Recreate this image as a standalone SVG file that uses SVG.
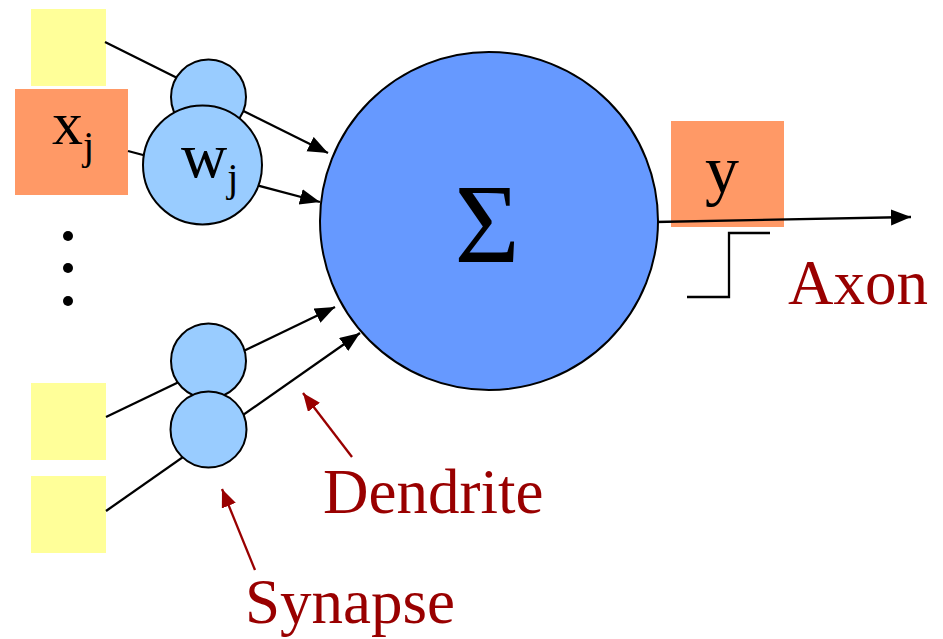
<svg xmlns="http://www.w3.org/2000/svg" width="943" height="639" viewBox="0 0 943 639">
<style>
.in{fill:#FFFF99}
.out{fill:#FF9966}
.syn{fill:#99CCFF;stroke:#000;stroke-width:2}
.ln{stroke:#000;stroke-width:2.3;fill:none}
.rl{stroke:#990000;stroke-width:2.3;fill:none}
.t{font-family:"Liberation Serif","Times New Roman",serif;fill:#000}
.lbl{font-family:"Liberation Serif","Times New Roman",serif;fill:#990000;font-size:63px}
</style>
<defs>
<marker id="ab" markerUnits="userSpaceOnUse" markerWidth="22" markerHeight="18" refX="20" refY="8" orient="auto"><path d="M0,0 L20,8 L0,16 z" fill="#000"/></marker>
<marker id="ar" markerUnits="userSpaceOnUse" markerWidth="22" markerHeight="18" refX="18" refY="7.5" orient="auto"><path d="M0,0 L18,7.5 L0,15 z" fill="#990000"/></marker>
</defs>
<rect width="943" height="639" fill="#fff"/>
<g id="input1"><rect class="in" x="31" y="9" width="75" height="77"/></g>
<g id="input3"><rect class="in" x="31" y="383" width="75" height="77"/></g>
<g id="input4"><rect class="in" x="31" y="476" width="75" height="77"/></g>
<g id="inputj"><rect class="out" x="15" y="89" width="113" height="106"/>
<text class="t" x="52" y="144" font-size="62">x<tspan font-size="40" dy="15">j</tspan></text></g>
<g id="output"><rect class="out" x="671" y="121" width="113" height="106"/>
<text class="t" x="722" y="193" font-size="68" text-anchor="middle">y</text></g>
<g id="connectors">
<line class="ln" x1="105" y1="42" x2="328" y2="153" marker-end="url(#ab)"/>
<line class="ln" x1="128" y1="151" x2="320" y2="202" marker-end="url(#ab)"/>
<line class="ln" x1="106" y1="417" x2="335" y2="307" marker-end="url(#ab)"/>
<line class="ln" x1="106" y1="511" x2="360" y2="333" marker-end="url(#ab)"/>
<line class="ln" x1="655" y1="222" x2="911" y2="217" marker-end="url(#ab)"/>
<line class="rl" x1="352" y1="457" x2="303" y2="393" marker-end="url(#ar)"/>
<line class="rl" x1="255" y1="570" x2="222" y2="489" marker-end="url(#ar)"/>
</g>
<g id="synapse1"><circle class="syn" cx="208.5" cy="97" r="37.5"/></g>
<g id="synapsej"><circle class="syn" cx="202.5" cy="165" r="59.5"/>
<text class="t" x="181" y="177" font-size="64">w<tspan font-size="40" dy="14">j</tspan></text></g>
<g id="synapse3"><circle class="syn" cx="208.5" cy="361" r="37.5"/></g>
<g id="synapse4"><circle class="syn" cx="208.5" cy="429.5" r="38"/></g>
<g id="dots"><circle cx="68" cy="236" r="5" fill="#000"/><circle cx="68" cy="268" r="5" fill="#000"/><circle cx="68" cy="301" r="5" fill="#000"/></g>
<g id="neuron"><circle cx="489" cy="221" r="169" fill="#6699FF" stroke="#000" stroke-width="2"/>
<text class="t" x="487" y="262" font-size="112" text-anchor="middle">Σ</text></g>
<g id="step"><polyline class="ln" points="687,297 729,297 729,233 770,233"/></g>
<text class="lbl" x="788" y="304">Axon</text>
<text class="lbl" x="323" y="513">Dendrite</text>
<text class="lbl" x="245" y="623">Synapse</text>
</svg>
